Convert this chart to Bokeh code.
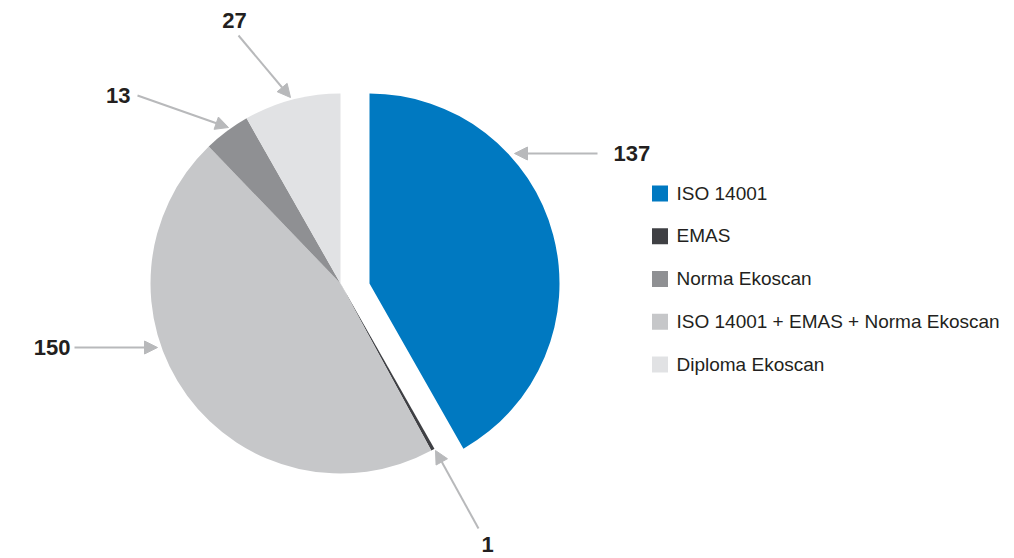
import math
from bokeh.plotting import figure
from bokeh.models import Range1d, Arrow, NormalHead, ColumnDataSource
from bokeh.core.properties import value
from bokeh.embed import file_html
from bokeh.resources import INLINE

# ---- data ----
categories = ["ISO 14001", "EMAS", "Norma Ekoscan",
              "ISO 14001 + EMAS + Norma Ekoscan", "Diploma Ekoscan"]
counts = [137, 1, 13, 150, 27]
colors = ["#0079c1", "#3f4044", "#8f9093", "#c6c7c9", "#e1e2e4"]
# order of slices clockwise from 12 o'clock
pie_order = [0, 1, 3, 2, 4]
exploded = [0]

# ---- layout ----
W, H = 1014, 558
def px(ix):
    return ix
def py(iy):
    return H - iy

CX, CY, R = px(340), py(283), 190
EXPLODE_DX = 29
TEXT_COLOR = "#231f20"
ARROW_COLOR = "#b8b9bb"

p = figure(width=W, height=H, x_range=Range1d(0, W), y_range=Range1d(0, H),
           output_backend="svg", toolbar_location=None, min_border=0,
           x_axis_type=None, y_axis_type=None)
p.grid.visible = False
p.outline_line_color = None
p.background_fill_color = "white"
p.border_fill_color = "white"

total = float(sum(counts))
xs, ys, starts, ends, cols = [], [], [], [], []
cum = 0.0
for idx in pie_order:
    frac = counts[idx] / total * 2 * math.pi
    a0, a1 = cum, cum + frac
    cum = a1
    xs.append(CX + (EXPLODE_DX if idx in exploded else 0))
    ys.append(CY)
    starts.append(math.pi / 2 - a1)
    ends.append(math.pi / 2 - a0)
    cols.append(colors[idx])

p.wedge(x="x", y="y", radius=R, start_angle="s", end_angle="e",
        fill_color="c", line_color=None,
        source=ColumnDataSource(dict(x=xs, y=ys, s=starts, e=ends, c=cols)))

# ---- value labels with arrows (positions are layout) ----
label_layout = {
    0: dict(tx=613, ty=153, align="left", a=(597, 153, 514, 153)),
    1: dict(tx=487, ty=544, align="center", a=(478, 528, 435, 450)),
    3: dict(tx=70, ty=347, align="right", a=(74, 347, 157, 347)),
    2: dict(tx=130, ty=95, align="right", a=(137, 95, 228, 127)),
    4: dict(tx=234, ty=20, align="center", a=(238, 35, 290, 97)),
}
for idx, L in label_layout.items():
    x0, y0, x1, y1 = L["a"]
    p.add_layout(Arrow(x_start=px(x0), y_start=py(y0), x_end=px(x1), y_end=py(y1),
                       line_color=ARROW_COLOR, line_width=2,
                       end=NormalHead(size=13, fill_color=ARROW_COLOR,
                                      line_color=ARROW_COLOR)))
    p.text(x=[px(L["tx"])], y=[py(L["ty"])], text=[str(counts[idx])],
           text_align=L["align"], text_baseline="middle",
           text_font=value("Liberation Sans"), text_font_style="bold",
           text_font_size="22px", text_color=TEXT_COLOR)

# ---- legend ----
LEG_X, LEG_Y0, LEG_DY, SQ = 659.5, 193, 42.75, 16
lx = [px(LEG_X)] * len(categories)
ly = [py(LEG_Y0 + i * LEG_DY) for i in range(len(categories))]
p.rect(x=lx, y=ly, width=SQ, height=SQ, fill_color=colors, line_color=None)
p.text(x=[px(676)] * len(categories), y=[v + 0.5 for v in ly], text=categories,
       text_align="left", text_baseline="middle",
       text_font=value("Liberation Sans"), text_font_size="19px",
       text_color=TEXT_COLOR)

open("out.html", "w").write(file_html(p, INLINE))
